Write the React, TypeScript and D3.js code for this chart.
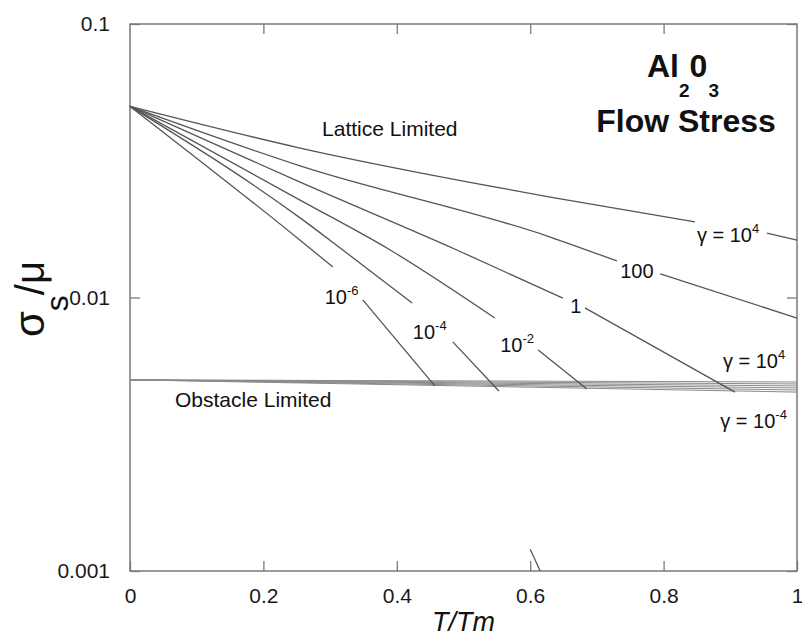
import { useEffect, useRef } from 'react';
import * as d3 from 'd3';

type Pt = [number, number] | null;

// axis ticks
const T_TICKS = [0, 0.2, 0.4, 0.6, 0.8, 1];
const T_TICK_LABELS = ['0', '0.2', '0.4', '0.6', '0.8', '1'];
const S_TICKS = [0.001, 0.01, 0.1];
const S_TICK_LABELS = ['0.001', '0.01', '0.1'];

// lattice limited curves (T/Tm, sigma/mu), null = gap for the label
const latticeG4: Pt[] = [[0, 0.05], [0.255, 0.0352], [0.63, 0.0233], [0.847, 0.0189], null, [0.955, 0.0172], [1, 0.0162]];
const latticeG2: Pt[] = [[0, 0.05], [0.255, 0.0303], [0.63, 0.01664], [0.73, 0.0136], null, [0.795, 0.0122], [1, 0.00841]];
const latticeG0: Pt[] = [[0, 0.05], [0.255, 0.0264], [0.49, 0.01492], [0.649, 0.00995], null, [0.682, 0.00916], [0.907, 0.00451]];
const latticeGm2: Pt[] = [[0, 0.05], [0.255, 0.0227], [0.39, 0.01492], [0.547, 0.00841], null, [0.612, 0.00643], [0.685, 0.00463]];
const latticeGm4: Pt[] = [[0, 0.05], [0.255, 0.01955], [0.319, 0.01492], [0.423, 0.00955], null, [0.484, 0.00688], [0.553, 0.00455]];
const latticeGm6: Pt[] = [[0, 0.05], [0.255, 0.0162], [0.304, 0.01294], null, [0.349, 0.0098], [0.457, 0.00475]];
const latticeCurves = [latticeG4, latticeG2, latticeG0, latticeGm2, latticeGm4, latticeGm6];

// stray fragment near the bottom axis
const bottomFragment: Pt[] = [[0.6, 0.0012], [0.615, 0.001]];

// obstacle limited band: value at T=0 and at T=1 for each gamma
const obstacleStart = 0.005;
const obstacleEnd = [0.00491, 0.00483, 0.00475, 0.00467, 0.00459, 0.00451];

// curve labels: text, superscript, T, sigma (baseline-left anchor)
const curveLabels: [string, string, number, number][] = [
  ['γ = 10', '4', 0.85, 0.01595],
  ['100', '', 0.735, 0.01178],
  ['1', '', 0.66, 0.00878],
  ['10', '-2', 0.555, 0.00632],
  ['10', '-4', 0.424, 0.00705],
  ['10', '-6', 0.292, 0.00947],
  ['γ = 10', '4', 0.889, 0.00553],
  ['γ = 10', '-4', 0.885, 0.00334],
];

const FONT = '"Liberation Sans", Arial, Helvetica, sans-serif';

export default function App() {
  const svgRef = useRef<SVGSVGElement>(null);

  useEffect(() => {
    if (!svgRef.current) return;
    const svg = d3.select(svgRef.current);
    svg.selectAll('*').remove();

    const x = d3.scaleLinear().domain([0, 1]).range([130, 797]);
    const y = d3.scaleLog().domain([0.001, 0.1]).range([571, 24]);

    const g = svg.append('g');

    // frame
    g.append('rect')
      .attr('x', x(0)).attr('y', y(0.1))
      .attr('width', x(1) - x(0)).attr('height', y(0.001) - y(0.1))
      .attr('fill', 'none').attr('stroke', '#7a7a7a').attr('stroke-width', 1.5);

    // axes with inward ticks
    const styleAxis = (sel: any) => {
      sel.select('.domain').remove();
      sel.selectAll('line').attr('stroke', '#7a7a7a').attr('stroke-width', 1.3);
      sel.selectAll('text').style('font-family', FONT).style('font-size', '21px').attr('fill', '#1a1a1a');
    };

    g.append('g')
      .attr('transform', `translate(0,${y(0.001)})`)
      .call(d3.axisBottom(x).tickValues(T_TICKS).tickSizeInner(-10).tickSizeOuter(0).tickPadding(17)
        .tickFormat((d, i) => T_TICK_LABELS[i]))
      .call(styleAxis);
    g.append('g')
      .attr('transform', `translate(0,${y(0.1)})`)
      .call(d3.axisTop(x).tickValues(T_TICKS.slice(1, -1)).tickSizeInner(-10).tickSizeOuter(0).tickFormat(() => ''))
      .call(styleAxis);
    g.append('g')
      .attr('transform', `translate(${x(0)},0)`)
      .call(d3.axisLeft(y).tickValues(S_TICKS).tickSizeInner(-10).tickSizeOuter(0).tickPadding(20)
        .tickFormat((d, i) => S_TICK_LABELS[i]))
      .call(styleAxis);
    g.append('g')
      .attr('transform', `translate(${x(1)},0)`)
      .call(d3.axisRight(y).tickValues(S_TICKS).tickSizeInner(-10).tickSizeOuter(0).tickFormat(() => ''))
      .call(styleAxis);

    const line = d3.line<Pt>()
      .defined(d => d !== null)
      .x(d => x((d as [number, number])[0]))
      .y(d => y((d as [number, number])[1]))
      .curve(d3.curveMonotoneX);

    // obstacle band
    obstacleEnd.forEach(v => {
      g.append('path')
        .datum([[0, obstacleStart], [1, v]] as Pt[])
        .attr('d', line)
        .attr('fill', 'none')
        .attr('stroke', '#8a8a8a')
        .attr('stroke-width', 1);
    });

    // lattice curves
    latticeCurves.forEach(pts => {
      g.append('path')
        .datum(pts)
        .attr('d', line)
        .attr('fill', 'none')
        .attr('stroke', '#555')
        .attr('stroke-width', 1.3);
    });
    g.append('path')
      .datum(bottomFragment)
      .attr('d', line)
      .attr('fill', 'none')
      .attr('stroke', '#555')
      .attr('stroke-width', 1.3);

    // curve labels
    curveLabels.forEach(([txt, sup, t, s]) => {
      const tx = g.append('text')
        .attr('x', x(t)).attr('y', y(s))
        .style('font-family', FONT).style('font-size', '20px').attr('fill', '#111');
      tx.append('tspan').text(txt);
      if (sup) tx.append('tspan').attr('dy', -9).style('font-size', '13px').text(sup);
    });

    // region labels
    g.append('text')
      .attr('x', x(0.288)).attr('y', y(0.039))
      .style('font-family', FONT).style('font-size', '21px').attr('fill', '#111')
      .text('Lattice Limited');
    g.append('text')
      .attr('x', x(0.0675)).attr('y', y(0.00398))
      .style('font-family', FONT).style('font-size', '21px').attr('fill', '#111')
      .text('Obstacle Limited');

    // title
    const t1 = g.append('text')
      .attr('x', 647).attr('y', 77)
      .style('font-family', FONT).style('font-size', '32px').style('font-weight', 'bold').attr('fill', '#111');
    t1.append('tspan').text('Al');
    t1.append('tspan').attr('dy', 20).style('font-size', '19px').text('2');
    t1.append('tspan').attr('dy', -20).text('0');
    t1.append('tspan').attr('dy', 20).attr('dx', 1).style('font-size', '19px').text('3');
    g.append('text')
      .attr('x', 686).attr('y', 132)
      .attr('text-anchor', 'middle')
      .style('font-family', FONT).style('font-size', '32px').style('font-weight', 'bold').attr('fill', '#111')
      .text('Flow Stress');

    // axis titles
    g.append('text')
      .attr('x', (x(0) + x(1)) / 2).attr('y', 631)
      .attr('text-anchor', 'middle')
      .style('font-family', FONT).style('font-size', '27px').style('font-style', 'italic').attr('fill', '#111')
      .text('T/Tm');

    const yt = g.append('text')
      .attr('transform', 'translate(44,299) rotate(-90)')
      .attr('text-anchor', 'middle')
      .style('font-family', FONT).attr('fill', '#111');
    yt.append('tspan').style('font-size', '42px').text('σ');
    yt.append('tspan').attr('dy', 24).style('font-size', '32px').text('s');
    yt.append('tspan').attr('dy', -24).style('font-size', '40px').text('/μ');
  }, []);

  return (
    <svg
      ref={svgRef}
      width={802}
      height={640}
      style={{ position: 'absolute', left: 0, top: 0, background: '#fff' }}
    />
  );
}
